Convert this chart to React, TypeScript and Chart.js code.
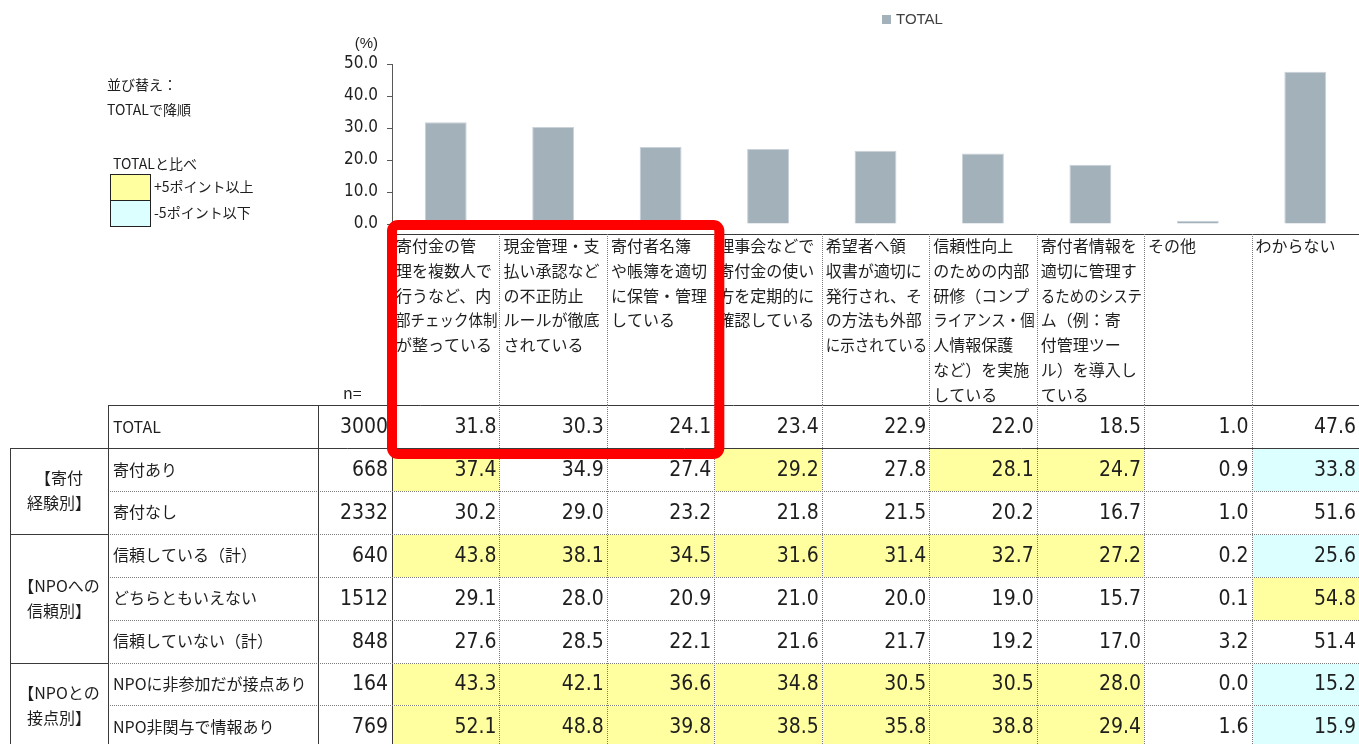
import React, { useEffect, useRef } from "react";
import { Chart, registerables } from "chart.js";

Chart.register(...registerables);

// ---------- data ----------
const categories: string[][] = [
  ["寄付金の管", "理を複数人で", "行うなど、内", "部チェック体制", "が整っている"],
  ["現金管理・支", "払い承認など", "の不正防止", "ルールが徹底", "されている"],
  ["寄付者名簿", "や帳簿を適切", "に保管・管理", "している"],
  ["理事会などで", "寄付金の使い", "方を定期的に", "確認している"],
  ["希望者へ領", "収書が適切に", "発行され、そ", "の方法も外部", "に示されている"],
  ["信頼性向上", "のための内部", "研修（コンプ", "ライアンス・個", "人情報保護", "など）を実施", "している"],
  ["寄付者情報を", "適切に管理す", "るためのシステ", "ム（例：寄", "付管理ツー", "ル）を導入し", "ている"],
  ["その他"],
  ["わからない"],
];
const seriesLabel = "TOTAL";
const totalN = 3000;
const totalValues = [31.8, 30.3, 24.1, 23.4, 22.9, 22.0, 18.5, 1.0, 47.6];

const rowLabels = [
  "寄付あり",
  "寄付なし",
  "信頼している（計）",
  "どちらともいえない",
  "信頼していない（計）",
  "NPOに非参加だが接点あり",
  "NPO非関与で情報あり",
];
const rowN = [668, 2332, 640, 1512, 848, 164, 769];
const rowDonated = [37.4, 34.9, 27.4, 29.2, 27.8, 28.1, 24.7, 0.9, 33.8];
const rowNotDonated = [30.2, 29.0, 23.2, 21.8, 21.5, 20.2, 16.7, 1.0, 51.6];
const rowTrust = [43.8, 38.1, 34.5, 31.6, 31.4, 32.7, 27.2, 0.2, 25.6];
const rowNeither = [29.1, 28.0, 20.9, 21.0, 20.0, 19.0, 15.7, 0.1, 54.8];
const rowNoTrust = [27.6, 28.5, 22.1, 21.6, 21.7, 19.2, 17.0, 3.2, 51.4];
const rowContact = [43.3, 42.1, 36.6, 34.8, 30.5, 30.5, 28.0, 0.0, 15.2];
const rowInfo = [52.1, 48.8, 39.8, 38.5, 35.8, 38.8, 29.4, 1.6, 15.9];
const rowValues = [rowDonated, rowNotDonated, rowTrust, rowNeither, rowNoTrust, rowContact, rowInfo];

const groupLabels: string[][] = [
  ["【寄付", "経験別】"],
  ["【NPOへの", "信頼別】"],
  ["【NPOとの", "接点別】"],
];
const groupSpans = [2, 3, 2];

const yTickValues = [0, 10, 20, 30, 40, 50];
const sortNote = ["並び替え：", "TOTALで降順"];
const compareNote = "TOTALと比べ";
const highLabel = "+5ポイント以上";
const lowLabel = "-5ポイント以下";
const threshold = 5;

// ---------- styles ----------
const JP = '"Noto Sans CJK JP", "Noto Sans", sans-serif';
const NUM = '"DejaVu Sans Condensed", "Liberation Sans", sans-serif';
const LAT = '"Liberation Sans", Arial, sans-serif';
const TEXT = "#1e1e1e";
const BAR = "#A3B1BB";
const YELLOW = "#FFFFA0";
const CYAN = "#DCFFFF";
const DARK = "#3a3a3a";
const DOT = "#7c7c7c";

const HEAD_TOP = 234;
const HEAD_BOTTOM = 405;
const TOTAL_BOTTOM = 448;
const ROW_H = 42.9;
const GROUP_L = 10;
const LABEL_L = 108;
const N_L = 318;

function hLine(ctx: CanvasRenderingContext2D, x1: number, x2: number, y: number, dotted: boolean) {
  ctx.save();
  ctx.beginPath();
  ctx.lineWidth = 1;
  ctx.strokeStyle = dotted ? DOT : DARK;
  ctx.setLineDash(dotted ? [1, 1] : []);
  const yy = Math.round(y) + 0.5;
  ctx.moveTo(x1, yy);
  ctx.lineTo(x2, yy);
  ctx.stroke();
  ctx.restore();
}
function vLine(ctx: CanvasRenderingContext2D, x: number, y1: number, y2: number, dotted: boolean) {
  ctx.save();
  ctx.beginPath();
  ctx.lineWidth = 1;
  ctx.strokeStyle = dotted ? DOT : DARK;
  ctx.setLineDash(dotted ? [1, 1] : []);
  const xx = Math.round(x) + 0.5;
  ctx.moveTo(xx, y1);
  ctx.lineTo(xx, y2);
  ctx.stroke();
  ctx.restore();
}

const tablePlugin = {
  id: "tablePlugin",
  afterDraw(chart: any) {
    const ctx: CanvasRenderingContext2D = chart.ctx;
    const xs = chart.scales.x;
    const step = xs.getPixelForValue(1) - xs.getPixelForValue(0);
    const colL = (i: number) => xs.getPixelForValue(i) - step / 2;
    const colR = (i: number) => xs.getPixelForValue(i) + step / 2;
    const nCols = categories.length;
    const tableRight = colR(nCols - 1);
    const rowTop = (r: number) => TOTAL_BOTTOM + r * ROW_H;
    const tableBottom = rowTop(rowLabels.length);

    ctx.save();
    // cell fills
    rowValues.forEach((vals, r) => {
      vals.forEach((v, c) => {
        const d = v - totalValues[c];
        let fill: string | null = null;
        if (d >= threshold) fill = YELLOW;
        else if (d <= -threshold) fill = CYAN;
        if (fill) {
          ctx.fillStyle = fill;
          const x1 = Math.round(colL(c)) + 1;
          const x2 = Math.round(colR(c));
          const y1 = Math.round(rowTop(r)) + 1;
          const y2 = Math.round(rowTop(r + 1));
          ctx.fillRect(x1, y1, x2 - x1, y2 - y1);
        }
      });
    });

    // header lines
    hLine(ctx, colL(0), tableRight, HEAD_TOP, false);
    for (let c = 1; c < nCols; c++) vLine(ctx, colL(c), HEAD_TOP, HEAD_BOTTOM, true);
    vLine(ctx, colL(0), HEAD_TOP, tableBottom, false);
    hLine(ctx, LABEL_L, tableRight, HEAD_BOTTOM, false);
    hLine(ctx, GROUP_L, tableRight, TOTAL_BOTTOM, false);
    // row lines
    let acc = 0;
    const groupEnds = groupSpans.map((s) => (acc += s));
    for (let r = 1; r < rowLabels.length; r++) {
      const isGroup = groupEnds.includes(r);
      if (isGroup) hLine(ctx, GROUP_L, LABEL_L, rowTop(r), false);
      hLine(ctx, LABEL_L, tableRight, rowTop(r), true);
    }
    // vertical lines
    vLine(ctx, GROUP_L, TOTAL_BOTTOM, tableBottom, false);
    vLine(ctx, LABEL_L, HEAD_BOTTOM, tableBottom, false);
    vLine(ctx, N_L, HEAD_BOTTOM, tableBottom, false);
    for (let c = 1; c < nCols; c++) vLine(ctx, colL(c), HEAD_BOTTOM, tableBottom, true);

    // header text
    ctx.fillStyle = TEXT;
    ctx.textBaseline = "middle";
    ctx.textAlign = "left";
    ctx.font = `16px ${JP}`;
    categories.forEach((lines, c) => {
      const x = colL(c) + 4;
      const maxW = step - 6;
      lines.forEach((ln, k) => ctx.fillText(ln, x, 246 + k * 24.8, maxW));
    });
    ctx.font = `16px ${JP}`;
    ctx.fillText("n=", 343, 393);

    // TOTAL row
    ctx.textAlign = "left";
    ctx.font = `16px ${JP}`;
    ctx.fillText("TOTAL", 113, (HEAD_BOTTOM + TOTAL_BOTTOM) / 2);
    ctx.textAlign = "right";
    ctx.font = `21px ${NUM}`;
    ctx.fillText(String(totalN), colL(0) - 4, (HEAD_BOTTOM + TOTAL_BOTTOM) / 2 + 1);
    totalValues.forEach((v, c) => ctx.fillText(v.toFixed(1), colR(c) - 3, (HEAD_BOTTOM + TOTAL_BOTTOM) / 2 + 1));

    // body rows
    rowLabels.forEach((lab, r) => {
      const cy = (rowTop(r) + rowTop(r + 1)) / 2;
      ctx.textAlign = "left";
      ctx.font = `16px ${JP}`;
      ctx.fillText(lab, 113, cy);
      ctx.textAlign = "right";
      ctx.font = `21px ${NUM}`;
      ctx.fillText(String(rowN[r]), colL(0) - 4, cy + 1);
      rowValues[r].forEach((v, c) => ctx.fillText(v.toFixed(1), colR(c) - 3, cy + 1));
    });

    // group labels
    ctx.textAlign = "center";
    ctx.font = `16px ${JP}`;
    let start = 0;
    groupSpans.forEach((span, g) => {
      const y1 = rowTop(start);
      const y2 = rowTop(start + span);
      const cy = (y1 + y2) / 2;
      const lines = groupLabels[g];
      lines.forEach((ln, k) => ctx.fillText(ln, (GROUP_L + LABEL_L) / 2, cy + (k - (lines.length - 1) / 2) * 25));
      start += span;
    });

    // red highlight frame around first three columns + TOTAL row
    ctx.save();
    ctx.strokeStyle = "#FF0000";
    ctx.lineWidth = 10;
    ctx.setLineDash([]);
    ctx.beginPath();
    const fx1 = colL(0);
    const fx2 = colR(2) + 5;
    (ctx as any).roundRect(fx1, 225, fx2 - fx1, 229, 6);
    ctx.stroke();
    ctx.restore();

    // legend
    ctx.fillStyle = BAR;
    ctx.fillRect(882, 15, 9, 9);
    ctx.fillStyle = "#404040";
    ctx.textAlign = "left";
    ctx.textBaseline = "middle";
    ctx.font = `15px ${LAT}`;
    ctx.fillText(seriesLabel, 896, 20);

    // axis unit
    ctx.fillStyle = TEXT;
    ctx.textAlign = "right";
    ctx.font = `15px ${LAT}`;
    ctx.fillText("(%)", 378, 44);

    // left notes
    ctx.textAlign = "left";
    ctx.font = `14px ${JP}`;
    ctx.fillText(sortNote[0], 107, 85);
    ctx.fillText(sortNote[1], 107, 110);
    ctx.fillText(compareNote, 113, 164);
    ctx.fillStyle = YELLOW;
    ctx.fillRect(110, 174, 40, 26);
    ctx.fillStyle = CYAN;
    ctx.fillRect(110, 200, 40, 26);
    ctx.strokeStyle = "#222";
    ctx.lineWidth = 1;
    ctx.strokeRect(110.5, 174.5, 40, 26);
    ctx.strokeRect(110.5, 200.5, 40, 26);
    ctx.fillStyle = TEXT;
    ctx.fillText(highLabel, 154, 187);
    ctx.fillText(lowLabel, 154, 213);

    ctx.restore();
  },
};

export default function App() {
  const canvasRef = useRef<HTMLCanvasElement | null>(null);

  useEffect(() => {
    if (!canvasRef.current) return;
    const chart = new Chart(canvasRef.current, {
      type: "bar",
      data: {
        labels: categories.map((c) => c.join("")),
        datasets: [
          {
            label: seriesLabel,
            data: totalValues,
            backgroundColor: BAR,
            borderColor: "#C9D2D8",
            borderWidth: 1,
            barPercentage: 0.39,
            categoryPercentage: 1,
          },
        ],
      },
      options: {
        animation: false,
        responsive: true,
        maintainAspectRatio: false,
        devicePixelRatio: 1,
        layout: { padding: { top: 64, bottom: 520, left: 0, right: 0 } },
        plugins: {
          legend: { display: false },
          tooltip: { enabled: false },
        },
        scales: {
          x: { display: false },
          y: {
            min: 0,
            max: 50,
            afterFit: (scale: any) => {
              scale.width = 392;
            },
            afterBuildTicks: (scale: any) => {
              scale.ticks = yTickValues.map((v) => ({ value: v }));
            },
            border: { display: true, color: "#595959", width: 1 },
            grid: { drawOnChartArea: false, drawTicks: true, tickLength: 5, color: "#595959" },
            ticks: {
              padding: 9,
              color: TEXT,
              font: { family: NUM, size: 17 },
              callback: (v: any) => Number(v).toFixed(1),
            },
          },
        },
      },
      plugins: [tablePlugin],
    });
    return () => chart.destroy();
  }, []);

  return (
    <div style={{ position: "absolute", left: 0, top: 0, width: 1359, height: 744, background: "#fff" }}>
      <canvas ref={canvasRef} />
    </div>
  );
}
